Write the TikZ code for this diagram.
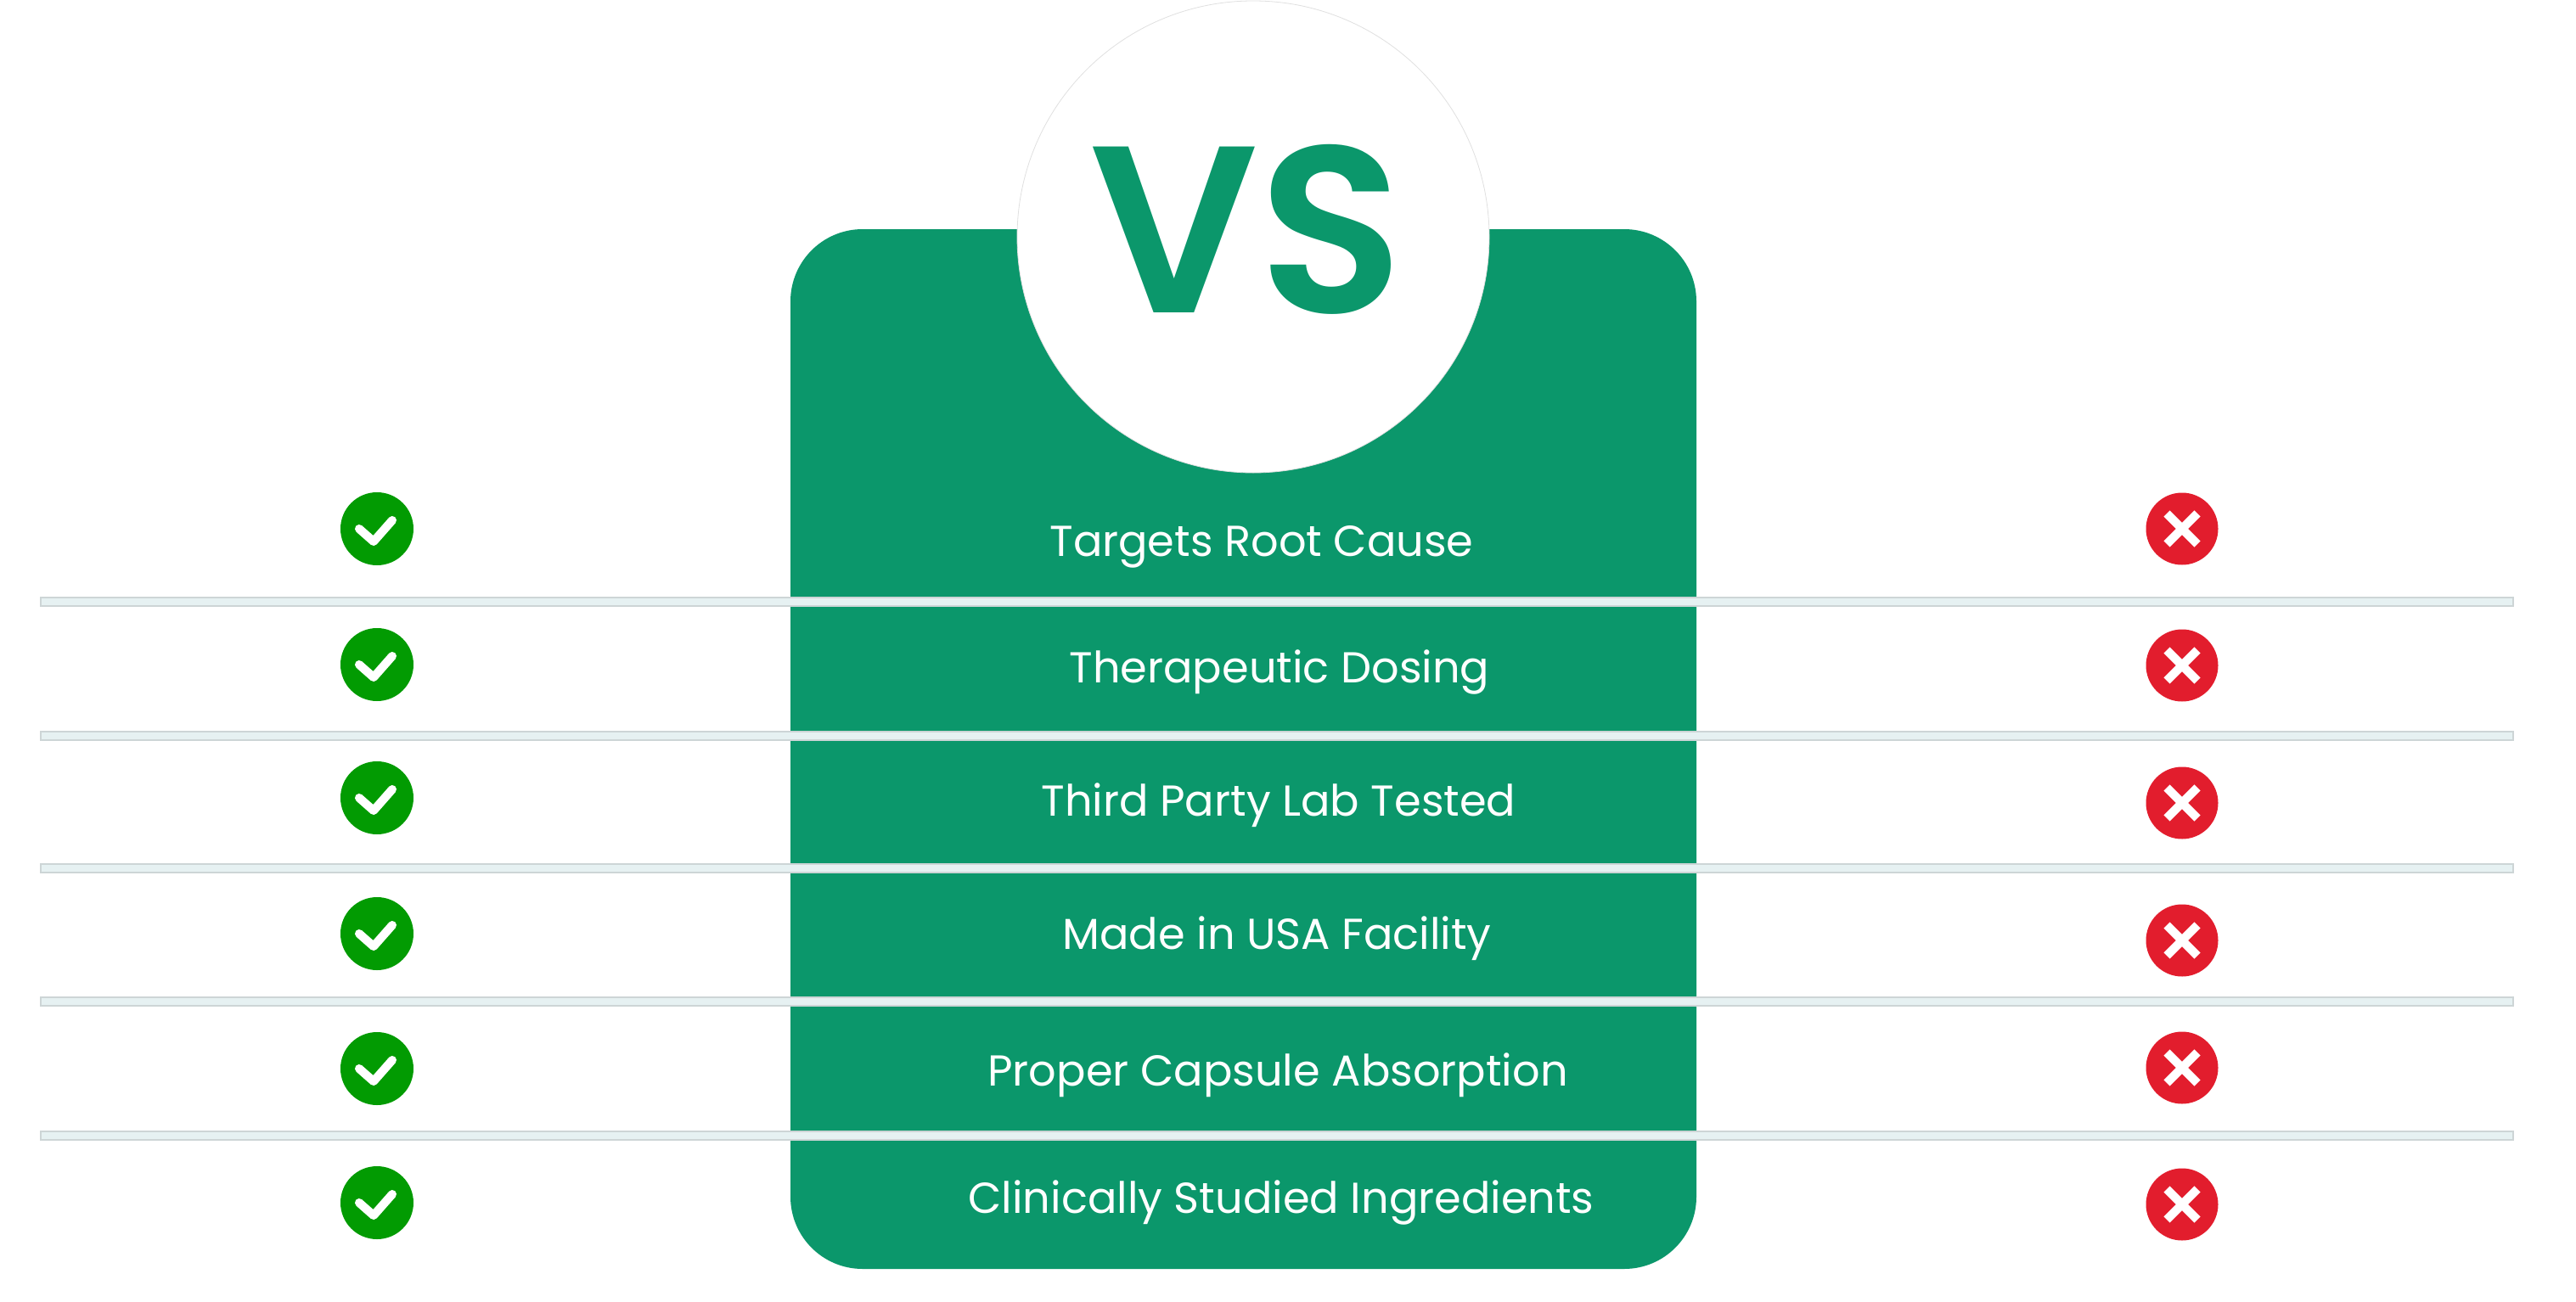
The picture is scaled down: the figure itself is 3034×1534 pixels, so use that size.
\documentclass[tikz,border=0pt]{standalone}
\usepackage{fontspec}
\setmainfont{Poppins}
\newfontfamily\vsfont{Poppins SemiBold}
\usepackage{tikz}
\usetikzlibrary{positioning}
\definecolor{PanelGreen}{HTML}{0B976B}
\definecolor{CheckGreen}{HTML}{029B02}
\definecolor{CrossRed}{HTML}{E21D2D}
\definecolor{SepFill}{HTML}{E6F1F2}
\definecolor{SepEdge}{HTML}{CDD5D6}
\tikzset{
  % Box styles
  panelbox/.style={rectangle, rounded corners=85pt, fill=PanelGreen, minimum width=1067pt, minimum height=1225pt, inner sep=0pt},
  vscircle/.style={circle, fill=white, draw=black!12, line width=0.8pt, minimum size=556pt, inner sep=0pt},
  vstext/.style={anchor=base, inner sep=0pt, text=PanelGreen, font=\vsfont\fontsize{280}{300}\selectfont},
  rowtext/.style={anchor=base, inner sep=0pt, text=white, font=\fontsize{51}{60}\selectfont},
  % Line styles
  sepline/.style={fill=SepFill, draw=SepEdge, line width=1.5pt},
  % Icon styles
  checkicon/.style={circle, fill=CheckGreen, minimum size=86pt, inner sep=0pt,
    path picture={\draw[white, line width=10pt, line cap=round, line join=round]
      ([xshift=-21pt]path picture bounding box.center) -- ++(17pt,-15pt) -- ++(22pt,25pt);}},
  crossicon/.style={circle, fill=CrossRed, minimum size=85pt, inner sep=0pt,
    path picture={\draw[white, line width=10pt]
      ([shift={(-18pt,-18pt)}]path picture bounding box.center) -- ++(36pt,36pt)
      ([shift={(-18pt,18pt)}]path picture bounding box.center) -- ++(36pt,-36pt);}}
}
\begin{document}
\begin{tikzpicture}[x=1pt, y=-1pt]
  \useasboundingbox (0,0) rectangle (3034,1534);

  % Centre panel and VS badge
  \node[panelbox] (panel) at (1464.5,882.5) {};
  \node[vscircle] (vs) at (1476,279) {};
  \node[vstext] (vslabel) at (1468,368) {VS};

  % Row separators
  \foreach \y in {709,867,1023,1180,1338} {
    \draw[sepline] (48,\y-5) rectangle (2960,\y+5);
  }

  % Rows: icons and features
  \foreach \yc/\yx/\yb/\tx/\feat [count=\i] in {
    623/623/655/1486/Targets Root Cause,
    783/784/804/1507/Therapeutic Dosing,
    940/946/961/1506/Third Party Lab Tested,
    1100/1108/1118/1504/Made in USA Facility,
    1259/1258/1279/1505/Proper Capsule Absorption,
    1417/1419/1429/1509/Clinically Studied Ingredients} {
    \node[checkicon] (check\i) at (444,\yc) {};
    \node[rowtext] (feat\i) at (\tx,\yb) {\feat};
    \node[crossicon] (cross\i) at (2570,\yx) {};
  }
\end{tikzpicture}
\end{document}
